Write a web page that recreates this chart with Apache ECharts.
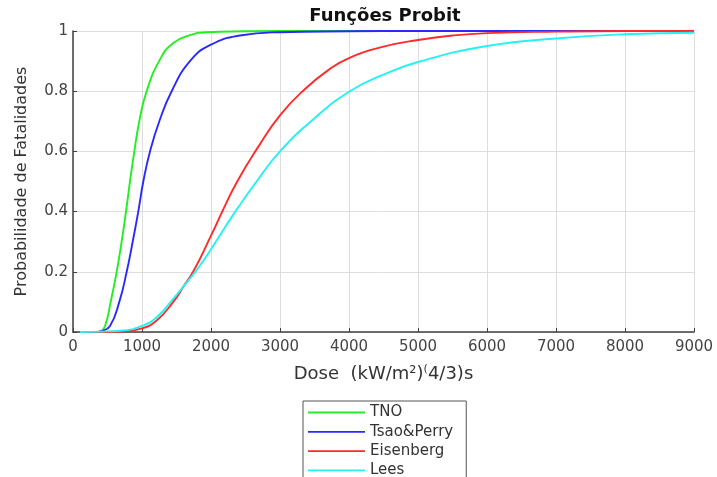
<!DOCTYPE html>
<html>
<head>
<meta charset="utf-8">
<script src="https://cdn.jsdelivr.net/npm/echarts@6/dist/echarts.min.js"></script>
<style>html,body{margin:0;padding:0;background:#fff;}#c{width:717px;height:477px;}</style>
</head>
<body>
<div id="c"></div>
<script>
const titleText = 'Funções Probit';
const yName = 'Probabilidade de Fatalidades';
const seriesNames = ['TNO', 'Tsao&Perry', 'Eisenberg', 'Lees'];
const xTicks = [0, 1000, 2000, 3000, 4000, 5000, 6000, 7000, 8000, 9000];
const yTicks = [0, 0.2, 0.4, 0.6, 0.8, 1];

const tno = [[100,0],[300,0],[390,0.002],[464,0.02],[546,0.1],[633,0.2],[705,0.3],[768,0.4],[826,0.5],[889,0.6],[961,0.7],[1067,0.8],[1260,0.905],[1453,0.96],[1695,0.986],[1937,0.996],[2500,0.999],[3000,1],[9000,1]];
const tsao = [[100,0],[330,0],[415,0.003],[536,0.02],[671,0.1],[778,0.2],[865,0.3],[946,0.4],[1019,0.5],[1116,0.6],[1251,0.7],[1430,0.8],[1695,0.9],[1985,0.953],[2420,0.985],[3000,0.996],[4000,0.999],[5000,1],[9000,1]];
const eisenberg = [[100,0],[500,0],[729,0.002],[1000,0.012],[1212,0.038],[1453,0.1],[1613,0.155],[1753,0.205],[2000,0.32],[2163,0.4],[2380,0.5],[2670,0.61],[3000,0.72],[3375,0.81],[3700,0.87],[4000,0.91],[4500,0.948],[5000,0.97],[5500,0.985],[6000,0.993],[7000,0.998],[8000,1],[9000,1]];
const lees = [[100,0],[500,0.002],[729,0.005],[1000,0.02],[1212,0.049],[1453,0.11],[1613,0.155],[1806,0.21],[2000,0.275],[2352,0.4],[2660,0.5],[3000,0.6],[3500,0.71],[4013,0.8],[4500,0.855],[5000,0.897],[6000,0.95],[7000,0.975],[8000,0.989],[9000,0.994]];
const colors = ['#22ee22', '#2a2aff', '#ff2a2a', '#22f2f2'];

const chart = echarts.init(document.getElementById('c'), null, {renderer: 'canvas'});
const datasets = [tno, tsao, eisenberg, lees];
const FONT = 'DejaVu Sans';
const lineIcon = 'path://M0,0 L57,0 L57,1.8 L0,1.8 Z';
chart.setOption({
  animation: false,
  backgroundColor: '#ffffff',
  title: {
    text: titleText, left: 385, top: 7, textAlign: 'center', padding: 0,
    textStyle: {fontFamily: FONT, fontSize: 18, fontWeight: 'bold', color: '#111'}
  },
  grid: {left: 73, right: 23, top: 31, bottom: 145, containLabel: false},
  legend: {
    orient: 'vertical', left: 303, top: 401, height: 80, padding: [4, 13, 4, 5],
    itemWidth: 57, itemHeight: 14, itemGap: 4.3, icon: lineIcon,
    borderColor: '#555', borderWidth: 1, backgroundColor: '#fff',
    data: seriesNames,
    textStyle: {fontFamily: FONT, fontSize: 15, color: '#333'}
  },
  xAxis: {
    type: 'value', min: xTicks[0], max: xTicks[xTicks.length-1], interval: 1000,
    name: '{a|Dose  (kW/m²)}{s|(}{a|4/3)s}', nameLocation: 'middle', nameGap: 32,
    nameTextStyle: {rich: {a: {fontFamily: FONT, fontSize: 18, color: '#333'}, s: {fontFamily: FONT, fontSize: 11, color: '#333', verticalAlign: 'top', padding: [0,0,9,0]}}},
    axisLine: {lineStyle: {color: '#404040', width: 1.5}},
    axisTick: {inside: true, length: 4, lineStyle: {color: '#404040'}},
    axisLabel: {fontFamily: FONT, fontSize: 15, color: '#444', margin: 8, formatter: v => String(v)},
    splitLine: {show: true, lineStyle: {color: '#dedede', width: 1}}
  },
  yAxis: {
    type: 'value', min: 0, max: 1, interval: 0.2,
    name: yName, nameLocation: 'middle', nameGap: 43, nameRotate: 90,
    nameTextStyle: {fontFamily: FONT, fontSize: 16, color: '#333'},
    axisLine: {show: true, lineStyle: {color: '#404040', width: 1.5}},
    axisTick: {show: true, inside: true, length: 4, lineStyle: {color: '#404040'}},
    axisLabel: {fontFamily: FONT, fontSize: 15, color: '#444', margin: 5},
    splitLine: {show: true, lineStyle: {color: '#dedede', width: 1}}
  },
  series: datasets.map((d, i) => ({
    name: seriesNames[i], type: 'line', data: d, symbol: 'none', showSymbol: false,
    smooth: 0.5,
    lineStyle: {color: colors[i], width: 1.9}, itemStyle: {color: colors[i]}
  }))
});
</script>
</body>
</html>
